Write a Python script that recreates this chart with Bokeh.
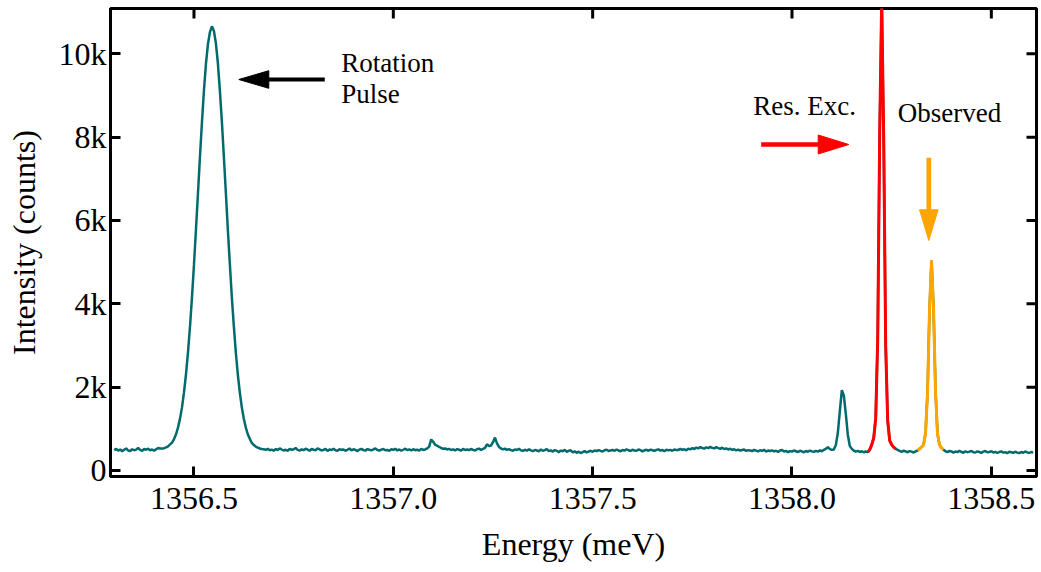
import numpy as np
from bokeh.plotting import figure
from bokeh.models import Range1d, FixedTicker, Label
from bokeh.embed import file_html
from bokeh.resources import INLINE

# Photoluminescence spectrum, counts per spectrometer pixel (0.005 meV steps from 1356.300 meV)
intensity = [
    490, 520, 476, 504, 462, 496, 530, 480, 468, 510,
    486, 500, 540, 494, 472, 516, 498, 524, 482, 506,
    472, 510, 540, 528, 530, 535, 556, 580, 625, 671,
    755, 870, 1035, 1245, 1520, 1880, 2310, 2840, 3450, 4160,
    4940, 5790, 6650, 7530, 8360, 9120, 9760, 10230, 10520, 10660,
    10550, 10250, 9770, 9110, 8370, 7520, 6660, 5770, 4950, 4150,
    3460, 2830, 2300, 1870, 1515, 1240, 1030, 870, 760, 665,
    612, 575, 550, 528, 515, 510, 496, 520, 486, 500,
    476, 514, 492, 530, 504, 480, 498, 472, 522, 494,
    510, 540, 496, 478, 506, 488, 524, 500, 474, 516,
    498, 486, 530, 508, 480, 494, 518, 470, 504, 492,
    522, 488, 476, 512, 496, 506, 472, 498, 528, 484,
    510, 494, 466, 502, 520, 490, 476, 514, 498, 484,
    506, 530, 492, 478, 500, 516, 486, 494, 472, 508,
    496, 520, 482, 504, 474, 498, 524, 490, 506, 480,
    512, 488, 500, 476, 518, 494, 506, 530, 575, 745,
    690, 615, 595, 565, 540, 520, 530, 505, 518, 492,
    506, 482, 514, 498, 476, 520, 492, 504, 488, 516,
    494, 478, 510, 524, 496, 520, 545, 630, 585, 600,
    680, 790, 650, 565, 530, 506, 524, 494, 512, 488,
    474, 506, 492, 520, 484, 470, 498, 476, 508, 486,
    462, 494, 480, 458, 504, 472, 488, 516, 466, 482,
    454, 490, 472, 440, 478, 462, 496, 450, 472, 484,
    436, 460, 424, 452, 418, 442, 466, 432, 456, 474,
    448, 480, 464, 490, 472, 456, 486, 500, 468, 482,
    494, 472, 504, 480, 462, 492, 476, 510, 486, 468,
    498, 480, 472, 506, 490, 460, 484, 496, 474, 502,
    486, 470, 494, 508, 478, 490, 464, 500, 482, 496,
    472, 506, 488, 498, 520, 494, 510, 484, 524, 506,
    536, 516, 550, 530, 560, 540, 524, 556, 538, 568,
    544, 530, 560, 536, 520, 548, 514, 532, 504, 522,
    496, 510, 484, 500, 476, 492, 506, 470, 488, 480,
    464, 494, 476, 458, 486, 470, 498, 452, 480, 468,
    484, 460, 474, 448, 478, 490, 456, 472, 440, 466,
    452, 480, 462, 444, 474, 458, 436, 468, 450, 478,
    460, 446, 472, 454, 484, 462, 496, 520, 560, 515,
    495, 505, 610, 905, 1425, 1930, 1800, 1360, 860, 590,
    520, 476, 452, 470, 444, 462, 438, 456, 440, 500,
    620, 780, 1250, 3150, 8100, 11300, 8000, 3000, 1200, 720,
    620, 560, 520, 495, 470, 448, 476, 458, 438, 466,
    452, 432, 458, 480, 520, 560, 620, 900, 1880, 3870,
    5040, 3900, 1900, 880, 620, 540, 500, 462, 440, 470,
    458, 430, 456, 442, 470, 448, 426, 462, 438, 452,
    468, 440, 432, 458, 444, 424, 452, 468, 436, 446,
    462, 432, 448, 420, 444, 460, 428, 442, 416, 450,
    438, 422, 450, 430, 416, 444, 426, 456, 434, 420,
    444, 430,
]
energy_start = 1356.300
energy_step = 0.005
energy = np.round(energy_start + energy_step * np.arange(len(intensity)), 3)
intensity = np.array(intensity, dtype=float)

# Energy windows of the resonantly excited line and of the observed line
res_exc_band = (1358.188, 1358.262)
observed_band = (1358.313, 1358.382)

x_ticks = [1356.5, 1357.0, 1357.5, 1358.0, 1358.5]
x_tick_labels = ["1356.5", "1357.0", "1357.5", "1358.0", "1358.5"]
y_ticks = [0, 2000, 4000, 6000, 8000, 10000]
y_tick_labels = ["0", "2k", "4k", "6k", "8k", "10k"]

X_RANGE = (1356.2906, 1358.6133)
Y_RANGE = (-144, 11087)

TEAL = "#006a6c"
RED = "#ff0000"
ORANGE = "#ffa500"
FONT = "Liberation Serif"

W, H = 1041, 572
BORDER_L, BORDER_R, BORDER_T, BORDER_B = 110, 5, 8, 96
FRAME_W = W - BORDER_L - BORDER_R
FRAME_H = H - BORDER_T - BORDER_B
TICK_LEN = 10

p = figure(width=W, height=H, output_backend="svg", toolbar_location=None,
           x_range=Range1d(*X_RANGE), y_range=Range1d(*Y_RANGE),
           min_border_left=BORDER_L, min_border_right=BORDER_R,
           min_border_top=BORDER_T, min_border_bottom=BORDER_B)
p.outline_line_color = "black"
p.outline_line_width = 3
p.xgrid.visible = False
p.ygrid.visible = False
p.background_fill_color = "white"
p.border_fill_color = "white"

for ax, ticks, labels in ((p.xaxis[0], x_ticks, x_tick_labels),
                          (p.yaxis[0], y_ticks, y_tick_labels)):
    ax.ticker = FixedTicker(ticks=ticks)
    ax.major_label_overrides = {t: s for t, s in zip(ticks, labels)}
    ax.axis_line_width = 3
    ax.axis_line_color = "black"
    ax.major_tick_in = TICK_LEN
    ax.major_tick_out = 0
    ax.major_tick_line_width = 3
    ax.major_tick_line_color = "black"
    ax.minor_tick_line_color = None
    ax.major_label_text_font = FONT
    ax.major_label_text_font_size = "32px"
    ax.major_label_text_color = "black"
    ax.axis_label_text_font = FONT
    ax.axis_label_text_font_size = "32px"
    ax.axis_label_text_font_style = "normal"
    ax.axis_label_text_color = "black"

p.xaxis[0].major_label_standoff = 11
p.yaxis[0].major_label_standoff = 4
p.xaxis[0].axis_label = "Energy (meV)"
p.yaxis[0].axis_label = "Intensity (counts)"
p.xaxis[0].axis_label_standoff = 14
p.yaxis[0].axis_label_standoff = 14

ux = (X_RANGE[1] - X_RANGE[0]) / FRAME_W
uy = (Y_RANGE[1] - Y_RANGE[0]) / FRAME_H

# Mirror ticks on the top and right edges of the frame, pointing inwards
p.segment(x0=x_ticks, x1=x_ticks, y0=[Y_RANGE[1]] * len(x_ticks),
          y1=[Y_RANGE[1] - TICK_LEN * uy] * len(x_ticks),
          line_color="black", line_width=3, line_cap="butt")
p.segment(x0=[X_RANGE[1]] * len(y_ticks), x1=[X_RANGE[1] - TICK_LEN * ux] * len(y_ticks),
          y0=y_ticks, y1=y_ticks, line_color="black", line_width=3, line_cap="butt")

# Spectrum, with the two highlighted lines drawn over it
p.line(energy, intensity, line_color=TEAL, line_width=2.5)
for band, color in ((res_exc_band, RED), (observed_band, ORANGE)):
    m = (energy >= band[0]) & (energy <= band[1])
    p.line(energy[m], intensity[m], line_color=color, line_width=3)


# Arrows: shaft plus a filled triangular head, sized in screen pixels
def draw_arrow(tail, tip, color, head_len, head_half, shaft):
    dxp = (tip[0] - tail[0]) / ux
    dyp = (tip[1] - tail[1]) / uy
    length = np.hypot(dxp, dyp)
    ex, ey = dxp / length, dyp / length
    nx, ny = -ey, ex
    base_x = tip[0] - ex * head_len * ux
    base_y = tip[1] - ey * head_len * uy
    p.segment(x0=[tail[0]], y0=[tail[1]],
              x1=[base_x + ex * 2 * ux], y1=[base_y + ey * 2 * uy],
              line_color=color, line_width=shaft, line_cap="butt")
    xs = [tip[0], base_x + nx * head_half * ux, base_x - nx * head_half * ux]
    ys = [tip[1], base_y + ny * head_half * uy, base_y - ny * head_half * uy]
    p.patch(xs, ys, fill_color=color, line_color=color, line_width=1)


draw_arrow((1356.8281, 9383), (1356.6124, 9383), "black", 30, 8.8, 4)
draw_arrow((1357.9227, 7823), (1358.1425, 7823), RED, 30.6, 9.5, 4.7)
draw_arrow((1358.3432, 7504), (1358.3432, 5520), ORANGE, 30.7, 9.3, 4.7)

for text, x, y in (("Rotation", 1356.8693, 9780), ("Pulse", 1356.8693, 9030),
                   ("Res. Exc.", 1357.9027, 8750), ("Observed", 1358.2654, 8580)):
    p.add_layout(Label(x=x, y=y, text=text, text_font=FONT, text_font_size="27px",
                       text_color="black", text_align="left", text_baseline="alphabetic"))

open("out.html", "w").write(file_html(p, INLINE))
